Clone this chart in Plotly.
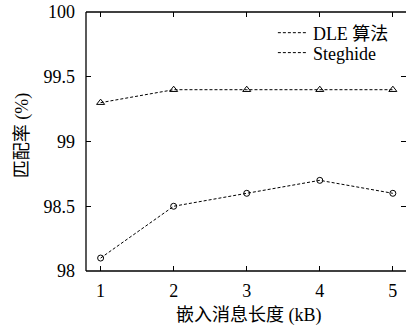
import plotly.graph_objects as go

x_vals = [1, 2, 3, 4, 5]
dle_vals = [99.3, 99.4, 99.4, 99.4, 99.4]
steg_vals = [98.1, 98.5, 98.6, 98.7, 98.6]
y_ticks = [98, 98.5, 99, 99.5, 100]
y_tick_text = ["98", "98.5", "99", "99.5", "100"]
series_names = ["DLE 算法", "Steghide"]
x_title = "嵌入消息长度 (kB)"
y_title = "匹配率 (%)"

FONT = "Liberation Serif, Noto Sans CJK SC"
FS = 18
TXT = dict(family=FONT, size=FS, color="black")
DASH = "3px,2px"

fig = go.Figure()
fig.add_trace(go.Scatter(x=x_vals, y=dle_vals, mode="lines+markers", showlegend=False, cliponaxis=False,
                         line=dict(color="black", width=1, dash=DASH),
                         marker=dict(symbol="triangle-up-open", size=7, color="black", line=dict(width=1))))
fig.add_trace(go.Scatter(x=x_vals, y=steg_vals, mode="lines+markers", showlegend=False, cliponaxis=False,
                         line=dict(color="black", width=1, dash=DASH),
                         marker=dict(symbol="circle-open", size=6, color="black", line=dict(width=1))))
for nm, lg in zip(series_names, ["legend", "legend2"]):
    fig.add_trace(go.Scatter(x=[None], y=[None], mode="lines", name=nm, legend=lg,
                             line=dict(color="black", width=1, dash=DASH)))

leg_common = dict(xanchor="left", yanchor="middle", bgcolor="rgba(0,0,0,0)",
                  font=TXT, itemwidth=30)

fig.update_layout(
    width=406, height=336,
    margin=dict(l=86, r=0, t=12, b=65),
    paper_bgcolor="white", plot_bgcolor="white",
    font=TXT,
    legend=dict(x=0.584, y=0.919, **leg_common),
    legend2=dict(x=0.584, y=0.842, **leg_common),
    xaxis=dict(range=[0.8, 5.18], tickvals=x_vals, ticks="inside", ticklen=5, tickwidth=1,
               tickcolor="black", mirror="ticks", showline=False, showgrid=False, zeroline=False,
               automargin=False, ticklabelstandoff=7, tickfont=TXT),
    yaxis=dict(range=[98, 100], tickvals=y_ticks, ticktext=y_tick_text, ticks="inside", ticklen=5,
               tickwidth=1, tickcolor="black", mirror="ticks", showline=False, showgrid=False,
               zeroline=False, automargin=False, ticklabelstandoff=10, tickfont=TXT),
    shapes=[
        dict(type="line", xref="paper", yref="paper", x0=0, x1=0, y0=0, y1=1, line=dict(color="black", width=1.3)),
        dict(type="line", xref="paper", yref="paper", x0=0, x1=1.02, y0=0, y1=0, line=dict(color="black", width=1.3)),
        dict(type="line", xref="paper", yref="paper", x0=0, x1=1.02, y0=1, y1=1, line=dict(color="black", width=1.3)),
    ],
    annotations=[
        dict(text=x_title, xref="paper", yref="paper", x=0.51, y=-0.17, xanchor="center", yanchor="middle",
             showarrow=False, font=TXT),
        dict(text=y_title, xref="paper", yref="paper", x=-0.2, y=0.52, xanchor="center", yanchor="middle",
             textangle=-90, showarrow=False, font=TXT),
    ],
)

POST = """
document.body.style.margin='0';
function forceSerif(){
  document.querySelectorAll('svg text').forEach(function(t){
    t.style.fontFamily = "'Liberation Serif', 'Noto Sans CJK SC', serif";
  });
}
forceSerif();
setTimeout(forceSerif, 0);
"""
fig.write_html("out.html", config={"displayModeBar": False}, post_script=POST)
